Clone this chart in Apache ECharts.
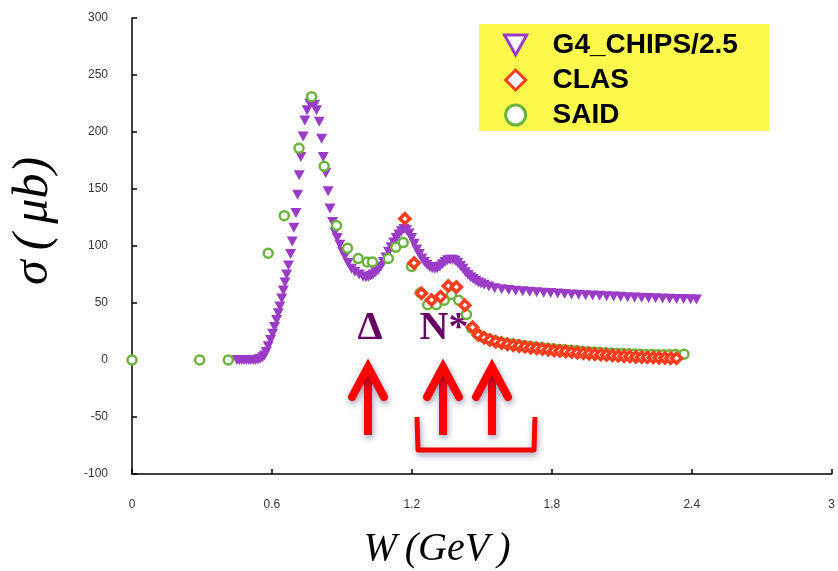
<!DOCTYPE html>
<html>
<head>
<meta charset="utf-8">
<script src="https://cdn.jsdelivr.net/npm/echarts@6/dist/echarts.min.js"></script>
<style>html,body{margin:0;padding:0;background:#fff;}#c{width:838px;height:571px;}</style>
</head>
<body>
<div id="c"></div>
<script>
// ---- data (W in GeV, sigma in microbarn) ----
const seriesNames = ['G4_CHIPS/2.5', 'CLAS', 'SAID'];
const xTicks = [0, 0.6, 1.2, 1.8, 2.4, 3];
const yTicks = [-100, -50, 0, 50, 100, 150, 200, 250, 300];

const g4W = [0.450,0.460,0.470,0.480,0.490,0.500,0.510,0.520,0.530,0.540,0.550,0.560,
  0.568,0.575,0.584,0.594,0.603,0.611,0.620,0.627,0.634,0.642,0.649,0.656,0.663,0.671,0.680,0.687,0.694,0.703,
  0.710,0.717,0.724,0.734,0.741,0.751,0.762,0.772,0.783,0.791,0.803,0.813,0.820,0.831,0.841,0.849,0.860,0.870,
  0.880,0.891,0.903,0.913,0.927,0.941,0.956,0.974,0.991,1.003,1.013,1.024,1.034,1.045,1.056,
  1.067,1.078,1.089,1.100,1.111,1.122,1.133,1.144,1.155,1.166,1.177,1.188,1.199,1.210,1.221,1.232,1.243,1.254,
  1.265,1.276,1.287,1.298,1.309,1.320,1.331,1.342,1.353,1.364,1.375,1.386,1.397,1.408,1.419,1.430,1.441,1.452,
  1.463,1.474,1.485,1.496,1.510,1.530,1.555,1.585,1.615,1.645,1.675,1.705,1.735,1.765,1.795,1.825,1.855,1.885,
  1.915,1.945,1.975,2.005,2.035,2.065,2.095,2.125,2.155,2.185,2.215,2.245,2.275,2.305,2.335,2.365,2.395,2.420];
const g4Sigma = [0,0,0,0,0,0,0,0,0,0.5,1,2.5,
  4,7,12,17.5,23,29,35,41,47,54,61,68,75,83,93,104,116,129,
  145,162,178,196,210,219,225,227,224,219,209,194,178,164,148,133,121,112,
  107,101,95,91,85,80,77.5,75,73,72.5,73,74,75,77,79,
  82,86,90,95,99,103,107,110,113,115,114,111,107,102,97,93,89,86,
  83.5,81.5,80.5,80,80.5,82,84,86,87.5,88,88,87,85,82.5,80,77,74.5,72.5,
  71,69.5,68,67,66,64.5,63,62,61.3,60.8,60.3,59.9,59.5,59.1,58.7,58.3,57.9,57.5,
  57.2,56.9,56.6,56.3,56,55.7,55.4,55.1,54.8,54.6,54.4,54.2,54,53.8,53.6,53.4,53.2,53];

const clasW = [1.170,1.209,1.241,1.284,1.323,1.356,1.391,1.427,1.460,1.485,1.510,1.535,1.560,1.585,1.610,1.635,
  1.660,1.685,1.710,1.735,1.760,1.785,1.810,1.835,1.860,1.885,1.910,1.935,1.960,1.985,2.010,2.035,2.060,2.085,
  2.110,2.135,2.160,2.185,2.210,2.235,2.260,2.285,2.310,2.335];
const clasSigma = [124,85,58.5,52.6,55.6,65,64,48,28.7,22,19.5,17.5,16,14.8,13.8,13,
  12.2,11.5,10.8,10.2,9.6,9,8.4,7.9,7.4,6.9,6.4,6,5.5,5.1,4.7,4.3,4,3.6,
  3.3,3,2.7,2.5,2.3,2.1,1.9,1.7,1.6,1.5];

const saidW = [0,0.290,0.413,0.584,0.653,0.716,0.770,0.824,0.877,0.924,0.970,1.009,1.031,1.099,1.131,1.163,1.199,
  1.237,1.268,1.305,1.339,1.370,1.401,1.434,1.456,1.480,1.505,1.530,1.555,1.580,1.605,1.630,1.655,1.680,1.705,
  1.730,1.755,1.780,1.805,1.830,1.855,1.880,1.905,1.930,1.955,1.980,2.005,2.030,2.055,2.080,2.105,2.130,2.155,
  2.180,2.205,2.230,2.255,2.280,2.305,2.330,2.367];
const saidSigma = [0,0,0,93.6,126.6,185.7,231,170,118,98,89,86,86,89,99,103,82,
  59,48.5,48.5,52.5,57.5,52.5,40,28,23,20,18.2,16.8,15.7,14.8,14,13.3,12.6,12,
  11.4,10.8,10.3,9.8,9.3,8.9,8.5,8.1,7.7,7.3,7,6.7,6.4,6.1,5.9,5.6,5.4,5.2,
  5,4.9,4.8,4.7,4.7,4.7,4.8,5];

const colPurple = '#9a3cc6', colRed = '#ff3c1e', colGreen = '#6ab43c';
const zip = (a, b) => a.map((v, i) => [v, b[i]]);

const chart = echarts.init(document.getElementById('c'));
const red = '#ff0000';
const shadow = {shadowBlur: 6, shadowColor: 'rgba(30,30,90,0.45)', shadowOffsetX: 1, shadowOffsetY: 3};
function arrow(x) {
  return [
    {type: 'line', shape: {x1: x, y1: 370, x2: x, y2: 435}, style: Object.assign({stroke: red, lineWidth: 8}, shadow), z: 10},
    {type: 'polyline', shape: {points: [[x - 16, 397], [x, 367], [x + 16, 397]]}, style: Object.assign({stroke: red, lineWidth: 8, fill: null, lineJoin: 'miter', lineCap: 'round'}, shadow), z: 10}
  ];
}

const option = {
  animation: false,
  backgroundColor: '#fff',
  grid: {left: 132, right: 6, top: 18, bottom: 97},
  xAxis: {
    type: 'value', min: 0, max: 3, interval: 0.6,
    axisLine: {onZero: false, lineStyle: {color: '#000', width: 1.5}},
    axisTick: {inside: true, length: 5, lineStyle: {color: '#000', width: 1.5}},
    axisLabel: {color: '#333', fontSize: 12, margin: 25, fontFamily: 'Liberation Sans'},
    splitLine: {show: false}
  },
  yAxis: {
    type: 'value', min: yTicks[0], max: yTicks[yTicks.length - 1], interval: 50,
    axisLine: {onZero: false, lineStyle: {color: '#000', width: 1.5}},
    axisTick: {inside: true, length: 5, lineStyle: {color: '#000', width: 1.5}},
    axisLabel: {color: '#333', fontSize: 12, margin: 24, fontFamily: 'Liberation Sans'},
    splitLine: {show: false}
  },
  legend: {
    orient: 'vertical', left: 503, top: 31, padding: 0, itemGap: 7,
    itemWidth: 64, itemHeight: 20, symbolKeepAspect: true,
    textStyle: {fontSize: 28, fontWeight: 'bold', color: '#000', fontFamily: 'Liberation Sans'},
    data: [
      {name: seriesNames[0], icon: 'path://M0,0L20,0L10,18Z', itemStyle: {color: '#fff', borderColor: colPurple, borderWidth: 3}},
      {name: seriesNames[1], icon: 'path://M10,0L20,10L10,20L0,10Z', itemStyle: {color: '#fff', borderColor: colRed, borderWidth: 3}},
      {name: seriesNames[2], icon: 'circle', itemStyle: {color: '#fff', borderColor: colGreen, borderWidth: 3}}
    ]
  },
  series: [
    {name: seriesNames[0], type: 'scatter', data: zip(g4W, g4Sigma), symbol: 'triangle', symbolRotate: 180,
      symbolSize: [11, 10], itemStyle: {color: colPurple, opacity: 1}, z: 2},
    {name: seriesNames[1], type: 'scatter', data: zip(clasW, clasSigma), symbol: 'diamond', symbolSize: 10,
      itemStyle: {color: '#fff', borderColor: colRed, borderWidth: 3.5, opacity: 1}, z: 4},
    {name: seriesNames[2], type: 'scatter', data: zip(saidW, saidSigma), symbol: 'circle', symbolSize: 9,
      itemStyle: {color: '#fff', borderColor: colGreen, borderWidth: 2.5, opacity: 1}, z: 3}
  ],
  graphic: [
    {type: 'rect', shape: {x: 479, y: 24, width: 290, height: 107}, style: {fill: '#fdf84c'}, z: -1, silent: true},
    {type: 'text', x: 34, y: 221, rotation: Math.PI / 2,
      style: {text: 'σ\u2009(\u2009μb)', font: 'italic 50px "Liberation Serif"', fill: '#000', textAlign: 'center', textVerticalAlign: 'middle'}},
    {type: 'text', x: 437, y: 549,
      style: {text: 'W\u2009(GeV\u2009)', font: 'italic 40px "Liberation Serif"', fill: '#000', textAlign: 'center', textVerticalAlign: 'middle'}},
    {type: 'text', x: 370, y: 329,
      style: {text: 'Δ', font: 'bold 40px "Liberation Serif"', fill: '#660066', textAlign: 'center', textVerticalAlign: 'middle'}},
    {type: 'text', x: 444, y: 329,
      style: {text: 'N*', font: 'bold 40px "Liberation Serif"', fill: '#660066', textAlign: 'center', textVerticalAlign: 'middle'}},
    ...arrow(368), ...arrow(443), ...arrow(492),
    {type: 'polyline', shape: {points: [[417, 417], [418, 450], [534, 450], [535, 417]]},
      style: Object.assign({stroke: red, lineWidth: 5, fill: null, lineJoin: 'round'}, shadow), z: 10}
  ]
};
chart.setOption(option);
</script>
</body>
</html>
